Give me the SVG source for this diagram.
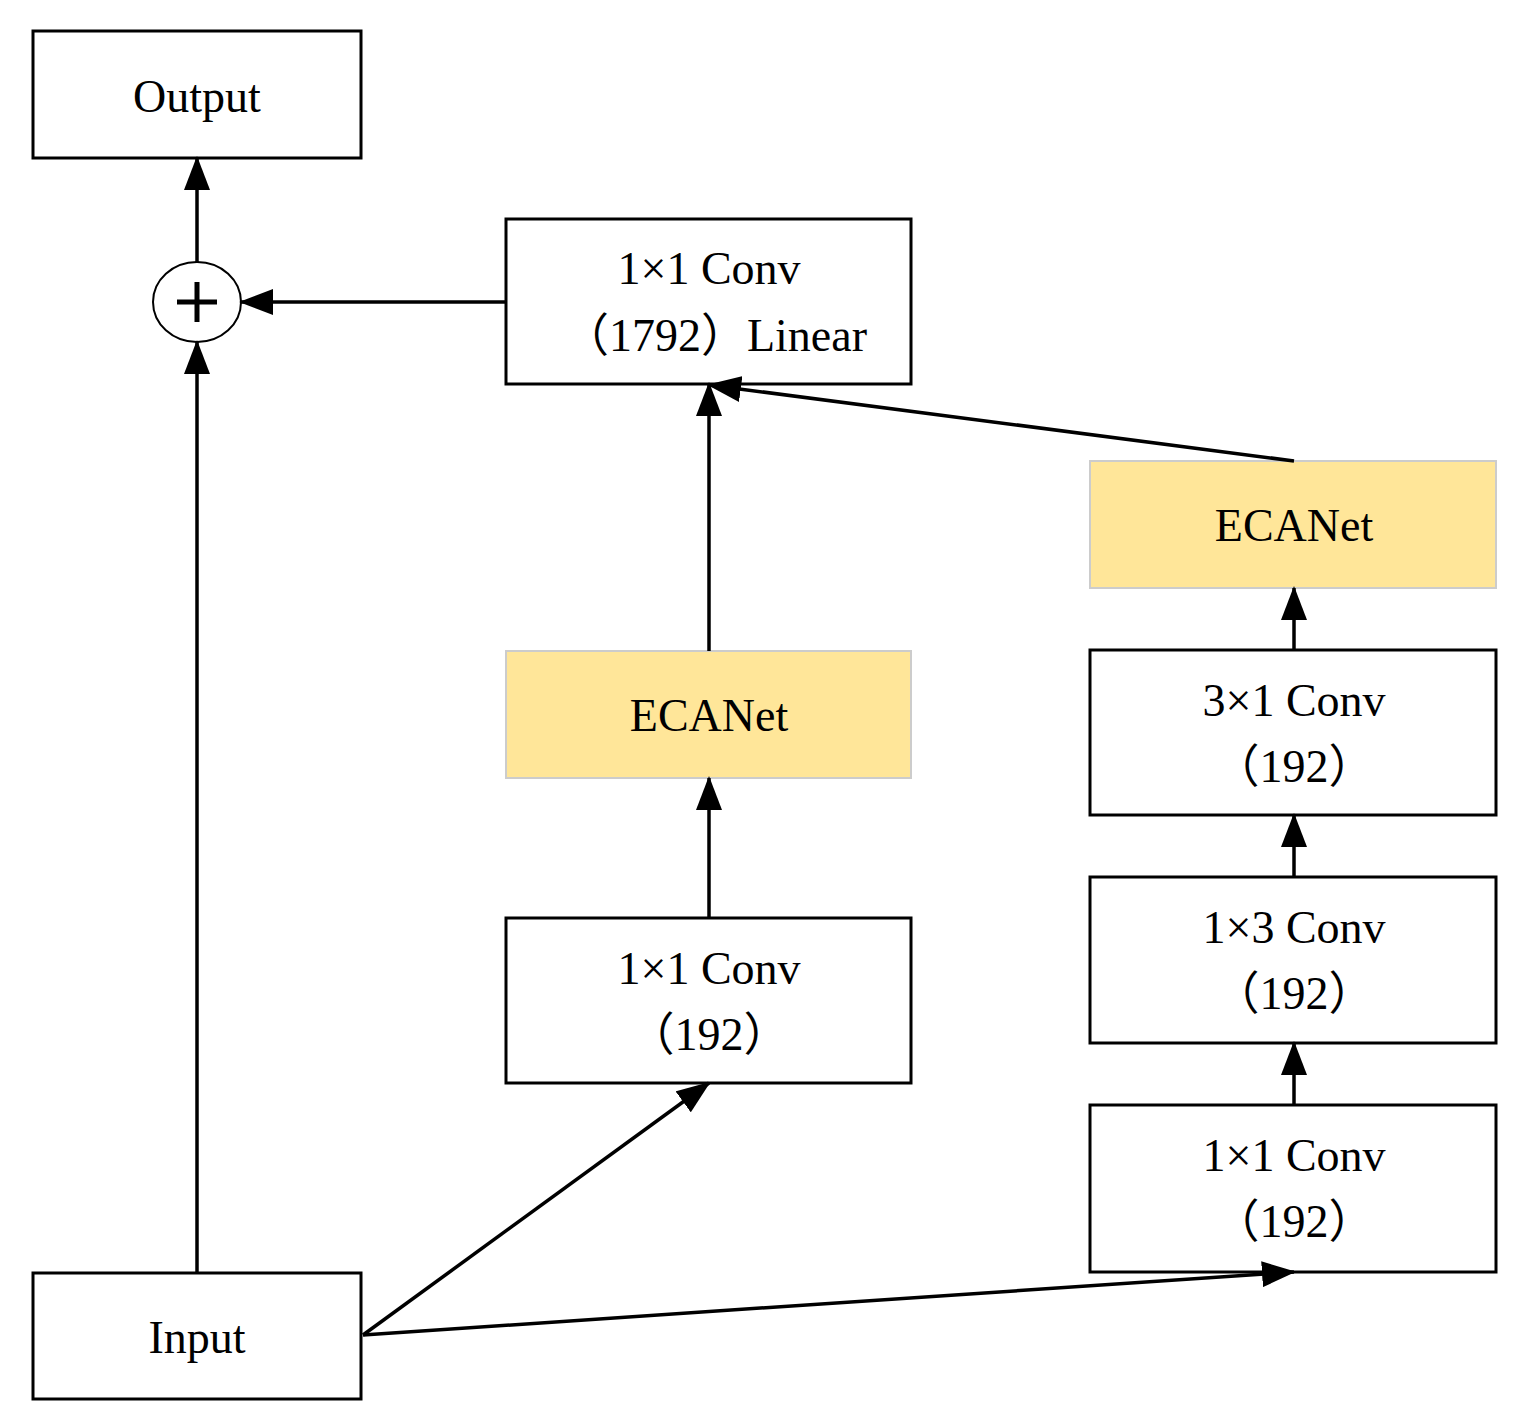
<svg xmlns="http://www.w3.org/2000/svg" width="1524" height="1423" viewBox="0 0 1524 1423">
<style>
.b{fill:#fff;stroke:#000;stroke-width:3}
.e{fill:#FFE699;stroke:#ccc;stroke-width:2}
text{font-family:"Liberation Serif","Noto Sans CJK SC",serif;font-size:46px;text-anchor:middle;fill:#000}
.c line{stroke:#000;stroke-width:3.5;marker-end:url(#a)}
</style>
<defs><marker id="a" markerUnits="userSpaceOnUse" markerWidth="34" markerHeight="26" refX="32" refY="13" orient="auto"><path d="M0,0L34,13L0,26z" fill="#000"/></marker></defs>
<rect width="1524" height="1423" fill="#fff"/>
<g id="output"><rect class="b" x="33" y="31" width="328" height="127"/><text x="197" y="112">Output</text></g>
<g id="plus"><ellipse cx="197" cy="302" rx="44" ry="40" fill="#fff" stroke="#000" stroke-width="2"/><path d="M177,302h40M197,282v40" stroke="#000" stroke-width="5"/></g>
<g id="linear"><rect class="b" x="506" y="219" width="405" height="165"/><text x="709" y="284">1×1 Conv</text><text x="715" y="351">（1792）Linear</text></g>
<g id="eca1"><rect class="e" x="506" y="651" width="405" height="127"/><text x="709" y="731">ECANet</text></g>
<g id="conv1"><rect class="b" x="506" y="918" width="405" height="165"/><text x="709" y="984">1×1 Conv</text><text x="709" y="1050">（192）</text></g>
<g id="eca2"><rect class="e" x="1090" y="461" width="406" height="127"/><text x="1294" y="541">ECANet</text></g>
<g id="conv31"><rect class="b" x="1090" y="650" width="406" height="165"/><text x="1294" y="716">3×1 Conv</text><text x="1294" y="782">（192）</text></g>
<g id="conv13"><rect class="b" x="1090" y="877" width="406" height="166"/><text x="1294" y="943">1×3 Conv</text><text x="1294" y="1009">（192）</text></g>
<g id="conv11r"><rect class="b" x="1090" y="1105" width="406" height="167"/><text x="1294" y="1171">1×1 Conv</text><text x="1294" y="1237">（192）</text></g>
<g id="input"><rect class="b" x="33" y="1273" width="328" height="126"/><text x="197" y="1353">Input</text></g>
<g class="c" id="connectors">
<line x1="197" y1="1273" x2="197" y2="342"/>
<line x1="197" y1="262" x2="197" y2="158"/>
<line x1="506" y1="302" x2="241" y2="302"/>
<line x1="709" y1="651" x2="709" y2="384"/>
<line x1="709" y1="918" x2="709" y2="778"/>
<line x1="363" y1="1335" x2="709" y2="1083"/>
<line x1="363" y1="1335" x2="1294" y2="1272"/>
<line x1="1294" y1="1105" x2="1294" y2="1043"/>
<line x1="1294" y1="877" x2="1294" y2="815"/>
<line x1="1294" y1="650" x2="1294" y2="588"/>
<line x1="1294" y1="461" x2="709" y2="385"/>
</g>
</svg>
